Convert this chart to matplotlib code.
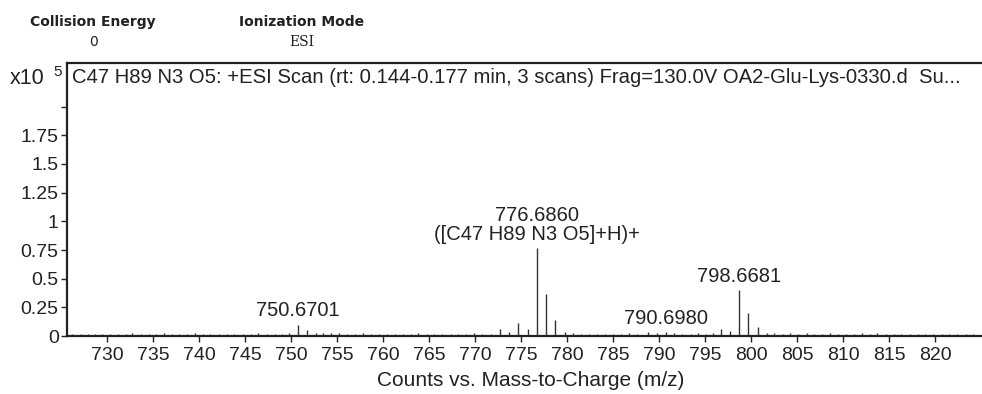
import numpy as np
import matplotlib
matplotlib.use('Agg')
import matplotlib.pyplot as plt

plt.rcParams['font.family'] = ['Liberation Sans', 'DejaVu Sans']

# Labelled peaks (m/z, intensity in 1e5 counts)
label_mz = [750.6701, 776.6860, 790.6980, 798.6681]
label_h = [0.100, 0.767, 0.035, 0.398]
label_txt = ['750.6701', '776.6860\n([C47 H89 N3 O5]+H)+', '790.6980', '798.6681']

# Isotopes and other resolved peaks
peak_mz = [751.673, 752.68, 770.70, 771.65, 772.66, 773.67, 774.67, 775.67,
           777.689, 778.692, 779.69, 788.75, 789.70, 796.65, 797.65,
           799.671, 800.675, 801.68]
peak_h = [0.050, 0.025, 0.018, 0.020, 0.064, 0.038, 0.117, 0.060,
          0.370, 0.137, 0.035, 0.035, 0.024, 0.063, 0.040,
          0.200, 0.080, 0.025]

# Baseline noise
noise_mz = [726.2, 727.1, 727.9, 728.6, 729.4, 730.3, 731.2, 732.0, 732.7, 733.6,
            734.5, 735.3, 736.1, 737.0, 737.8, 738.6, 739.5, 740.4, 741.2, 742.1,
            743.0, 743.8, 744.7, 745.6, 746.4, 747.3, 748.2, 749.0, 749.7, 753.4,
            754.3, 755.2, 756.0, 756.9, 757.8, 758.6, 759.5, 760.4, 761.3, 762.1,
            763.0, 763.8, 764.7, 765.5, 766.4, 767.3, 768.1, 769.0, 769.8, 780.6,
            781.5, 782.4, 783.2, 784.1, 785.0, 785.8, 786.7, 787.6, 791.6, 792.5,
            793.4, 794.2, 795.1, 795.8, 802.5, 803.4, 804.2, 805.1, 806.0, 806.8,
            807.7, 808.6, 809.4, 810.3, 811.2, 812.0, 812.9, 813.7, 814.6, 815.5,
            816.3, 817.2, 818.1, 818.9, 819.8, 820.7, 821.5, 822.4, 823.3, 824.1]
noise_h = [0.020, 0.022, 0.017, 0.021, 0.018, 0.022, 0.020, 0.017, 0.023, 0.018,
           0.021, 0.020, 0.024, 0.018, 0.022, 0.020, 0.023, 0.021, 0.018, 0.022,
           0.020, 0.017, 0.022, 0.021, 0.023, 0.018, 0.022, 0.020, 0.024, 0.030,
           0.026, 0.024, 0.022, 0.020, 0.023, 0.018, 0.021, 0.022, 0.020, 0.017,
           0.021, 0.023, 0.020, 0.022, 0.018, 0.021, 0.020, 0.022, 0.024, 0.026,
           0.022, 0.020, 0.021, 0.018, 0.022, 0.020, 0.023, 0.021, 0.025, 0.022,
           0.020, 0.023, 0.021, 0.024, 0.025, 0.022, 0.023, 0.021, 0.024, 0.020,
           0.022, 0.023, 0.021, 0.020, 0.022, 0.024, 0.021, 0.023, 0.020, 0.022,
           0.021, 0.018, 0.022, 0.020, 0.021, 0.018, 0.022, 0.020, 0.021, 0.018]

x_ticks = list(range(730, 825, 5))
y_ticks = [0, 0.25, 0.5, 0.75, 1, 1.25, 1.5, 1.75, 2]
y_labels = ['0', '0.25', '0.5', '0.75', '1', '1.25', '1.5', '1.75', '']

title = ('C47 H89 N3 O5: +ESI Scan (rt: 0.144-0.177 min, 3 scans) '
         'Frag=130.0V OA2-Glu-Lys-0330.d  Su...')

fig = plt.figure(figsize=(9.82, 3.94), dpi=100)
ax = fig.add_axes([0.0682, 0.147, 0.932, 0.693])

all_mz = noise_mz + peak_mz + label_mz
all_h = noise_h + peak_h + label_h
ax.vlines(all_mz, 0, all_h, colors='#333333', linewidth=1.0)

for mz, h, txt in zip(label_mz, label_h, label_txt):
    ax.annotate(txt, (mz, h), xytext=(0, 3), textcoords='offset points',
                ha='center', va='bottom', fontsize=14.5, color='#222222',
                linespacing=1.0)

ax.set_xlim(725.6, 825.1)
ax.set_ylim(0, 2.38)
ax.set_xticks(x_ticks)
ax.set_yticks(y_ticks)
ax.set_yticklabels(y_labels)
ax.tick_params(axis='both', direction='out', length=4, width=1, labelsize=14,
               colors='#222222')
ax.tick_params(axis='x', pad=4)
ax.tick_params(axis='y', pad=2)
for s in ['left', 'bottom', 'top']:
    ax.spines[s].set_linewidth(1.6)
    ax.spines[s].set_color('#222222')
ax.spines['right'].set_visible(False)

ax.set_xlabel('Counts vs. Mass-to-Charge (m/z)', fontsize=15, color='#222222')
ax.xaxis.set_label_coords(0.507, -0.128)
ax.text(0.006, 0.948, title, transform=ax.transAxes, ha='left', va='center',
        fontsize=14.6, color='#222222')

fig.text(10 / 982, 1 - 78 / 394, 'x10', ha='left', va='center', fontsize=15.5,
         color='#222222')
fig.text(53 / 982, 1 - 72 / 394, '5', ha='left', va='center', fontsize=11,
         color='#222222')

# acquisition header
fig.text(93 / 982, 1 - 22 / 394, 'Collision Energy', ha='center', va='center',
         fontsize=10, fontweight='bold', family='DejaVu Sans', color='#222222')
fig.text(93 / 982, 1 - 42 / 394, '0', ha='center', va='center',
         fontsize=10, family='DejaVu Sans', color='#222222')
fig.text(302 / 982, 1 - 22 / 394, 'Ionization Mode', ha='center', va='center',
         fontsize=10, fontweight='bold', family='DejaVu Sans', color='#222222')
fig.text(302 / 982, 1 - 42 / 394, 'ESI', ha='center', va='center',
         fontsize=10, family='DejaVu Serif', color='#222222')

fig.savefig('out.png', dpi=100)
